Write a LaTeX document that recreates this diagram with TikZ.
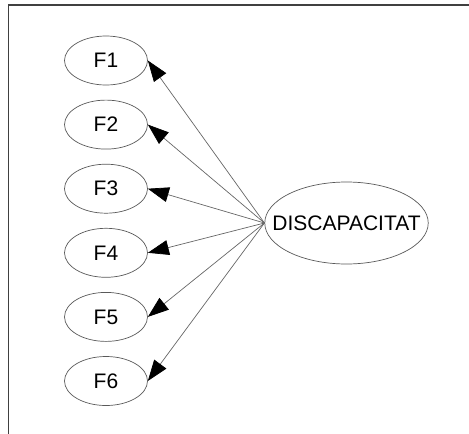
\documentclass[tikz,border=0pt]{standalone}
\usepackage{fontspec}
\setmainfont{Liberation Sans}
\usetikzlibrary{shapes.geometric,arrows.meta}
\begin{document}
\begin{tikzpicture}[x=1pt,y=-1pt,
  factor/.style={ellipse,draw=black!65,line width=0.7pt,inner sep=0pt,
    minimum width=83pt,minimum height=49pt,font=\fontsize{21}{21}\selectfont},
  % the long label would widen the ellipse, so pull its horizontal padding in
  latent/.style={factor,inner xsep=-16.3pt,minimum height=82pt},
  loading/.style={draw=black!60,line width=0.7pt,
    -{Triangle[length=21pt,width=15pt,fill=black,color=black]}}]
  \useasboundingbox (0,0) rectangle (469,434);
  % frame edges
  \draw[black!75,line width=1.3pt] (8.5,434) -- (8.5,5) -- (469,5);
  % factor nodes
  \foreach \i in {1,...,6}
    \node[factor] (F\i) at (106,{60.5+64.1*(\i-1)}) {F\i};
  \node[latent] (D) at (346.5,223) {DISCAPACITAT};
  % loadings
  \foreach \i in {1,...,6}
    \draw[loading] (D.west) -- (F\i.east);
\end{tikzpicture}
\end{document}
